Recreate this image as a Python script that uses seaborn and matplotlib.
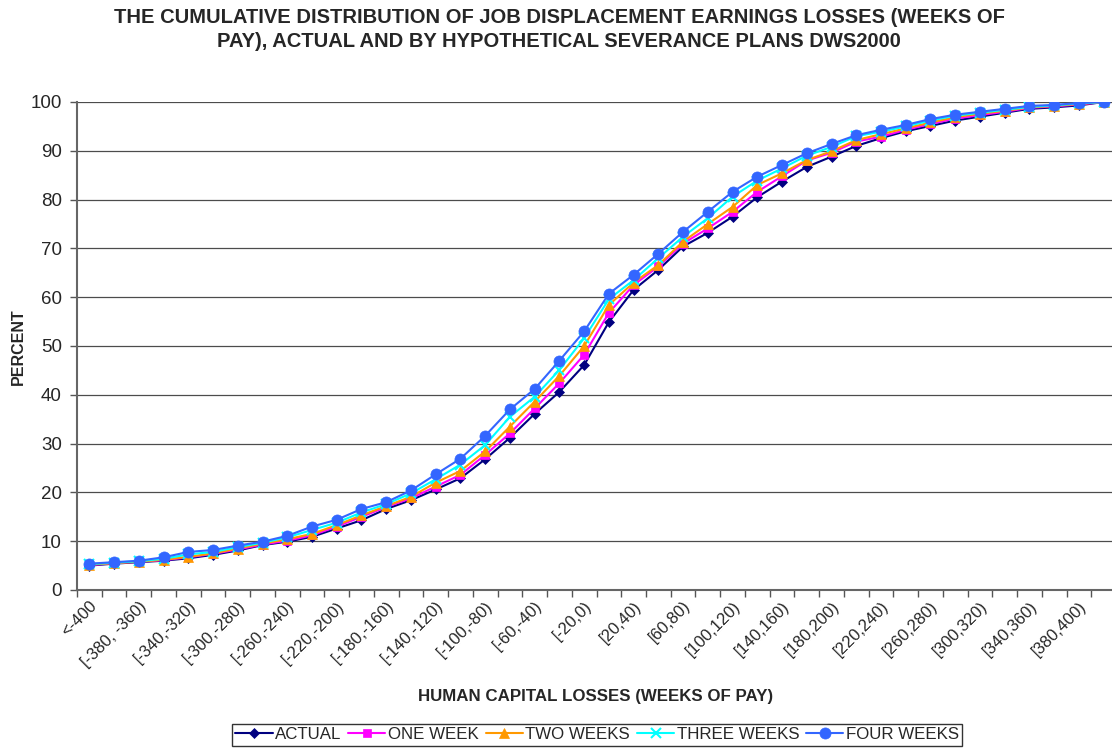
import matplotlib
matplotlib.use("Agg")
import matplotlib.pyplot as plt
import seaborn as sns
import numpy as np

categories = ["<-400"] + [f"[{a},{a+20})" for a in range(-400, 400, 20)] + [">=400"]
categories[2] = "[-380, -360)"

actual = [5.0, 5.4, 5.7, 6.0, 6.5, 7.2, 8.1, 9.2, 9.9, 10.9, 12.6, 14.3, 16.6, 18.4, 20.6,
          22.9, 26.8, 31.2, 36.1, 40.6, 46.1, 54.9, 61.5, 65.6, 70.4, 73.2, 76.5, 80.5, 83.7,
          86.7, 88.8, 91.0, 92.6, 94.0, 95.1, 96.2, 97.0, 97.8, 98.6, 98.9, 99.3, 100.0]
one_week = [5.1, 5.5, 5.8, 6.1, 6.7, 7.4, 8.3, 9.3, 10.1, 11.2, 13.0, 15.0, 17.0, 18.8, 21.2,
            23.6, 27.7, 32.1, 37.2, 42.4, 48.2, 56.8, 62.5, 66.3, 71.0, 74.1, 77.5, 81.6, 84.8,
            88.0, 89.6, 91.9, 92.9, 94.3, 95.5, 96.6, 97.3, 98.0, 98.8, 99.1, 99.5, 100.0]
two_weeks = [5.2, 5.5, 5.8, 6.2, 6.8, 7.5, 8.5, 9.5, 10.4, 11.5, 13.3, 15.3, 17.2, 19.1, 22.0,
             24.4, 28.4, 33.5, 38.6, 43.9, 50.0, 58.4, 63.0, 66.6, 71.4, 75.0, 78.5, 83.0, 85.4,
             88.1, 89.9, 92.2, 93.4, 94.6, 95.8, 96.9, 97.6, 98.2, 98.9, 99.2, 99.6, 100.0]
three_weeks = [5.3, 5.6, 5.9, 6.4, 7.3, 7.8, 8.8, 9.7, 10.8, 12.3, 13.8, 15.9, 17.6, 19.8, 22.7,
               25.7, 29.7, 35.5, 39.6, 45.1, 51.6, 59.6, 63.5, 68.0, 72.4, 76.2, 80.6, 83.9, 86.4,
               89.0, 90.8, 93.0, 93.9, 95.0, 96.2, 97.2, 97.8, 98.4, 99.0, 99.3, 99.7, 100.0]
four_weeks = [5.4, 5.7, 6.0, 6.7, 7.8, 8.2, 9.1, 9.9, 11.1, 13.0, 14.4, 16.6, 18.0, 20.4, 23.7,
              26.9, 31.6, 37.0, 41.2, 47.0, 53.0, 60.7, 64.6, 68.9, 73.4, 77.5, 81.6, 84.7, 87.1,
              89.5, 91.4, 93.2, 94.3, 95.3, 96.5, 97.4, 98.0, 98.6, 99.2, 99.4, 99.8, 100.0]

series_names = ["ACTUAL", "ONE WEEK", "TWO WEEKS", "THREE WEEKS", "FOUR WEEKS"]
series_values = [actual, one_week, two_weeks, three_weeks, four_weeks]
colors = ["#000080", "#FF00FF", "#FF9900", "#00FFFF", "#3366FF"]
markers = ["D", "s", "^", "x", "o"]
msizes = [5, 6, 7, 7, 8]

sns.set_style("white")
plt.rcParams['font.family'] = ['Liberation Sans', 'DejaVu Sans']

fig = plt.figure(figsize=(11.12, 7.54), dpi=100)
ax = fig.add_axes([77/1112, 1 - 590/754, (1116 - 77)/1112, (590 - 102)/754])

x = np.arange(len(categories))
for name, vals, c, m, ms in zip(series_names, series_values, colors, markers, msizes):
    sns.lineplot(x=x, y=vals, ax=ax, color=c, marker=m, markersize=ms, linewidth=1.5,
                 markeredgecolor=c, markeredgewidth=1.5 if m == "x" else 0.5, label=name)

ax.set_xlim(-0.5, len(categories) - 0.5)
ax.set_ylim(0, 100)
ax.set_yticks(range(0, 101, 10))
ax.yaxis.grid(True, color="#000000", linewidth=0.9, alpha=0.7)
ax.xaxis.grid(False)
ax.set_xticks(x[::2])
ax.set_xticklabels(categories[::2], rotation=45, ha="right", rotation_mode="anchor", fontsize=12)
ax.set_xticks(np.arange(-0.5, len(categories), 1), minor=True)
ax.tick_params(axis="x", which="major", length=0, pad=6)
ax.tick_params(axis="x", which="minor", length=5, width=1, color="#555555", direction="out", bottom=True)
ax.tick_params(axis="y", length=5, width=1, color="#555555", direction="out", left=True,
               labelsize=13.5, pad=6)
for s in ["top", "right"]:
    ax.spines[s].set_visible(False)
for s in ["left", "bottom"]:
    ax.spines[s].set_color("#666666")
    ax.spines[s].set_linewidth(1.5)

ax.set_xlabel("")
ax.set_ylabel("")
fig.text(596/1112, 1 - 697/754, "HUMAN CAPITAL LOSSES (WEEKS OF PAY)", ha="center", va="center",
         fontsize=12.2, fontweight="bold")
fig.text(18/1112, 1 - 347/754, "PERCENT", ha="center", va="center", rotation=90,
         fontsize=11.5, fontweight="bold")

fig.text(0.503, 0.99, "THE CUMULATIVE DISTRIBUTION OF JOB DISPLACEMENT EARNINGS LOSSES (WEEKS OF\n"
         "PAY), ACTUAL AND BY HYPOTHETICAL SEVERANCE PLANS DWS2000",
         ha="center", va="top", fontsize=14.5, fontweight="bold", linespacing=1.38)

ax.get_legend().remove()
handles, labels = ax.get_legend_handles_labels()
leg = fig.legend(handles, labels, loc="lower center", bbox_to_anchor=(0.537, 0.0), ncol=5,
                 frameon=True, fancybox=False, fontsize=12.2, handlelength=2.2,
                 handletextpad=0.15, columnspacing=0.4, borderpad=0.2)
leg.get_frame().set_edgecolor("black")
leg.get_frame().set_linewidth(1.0)

fig.savefig("out.png", dpi=100)
